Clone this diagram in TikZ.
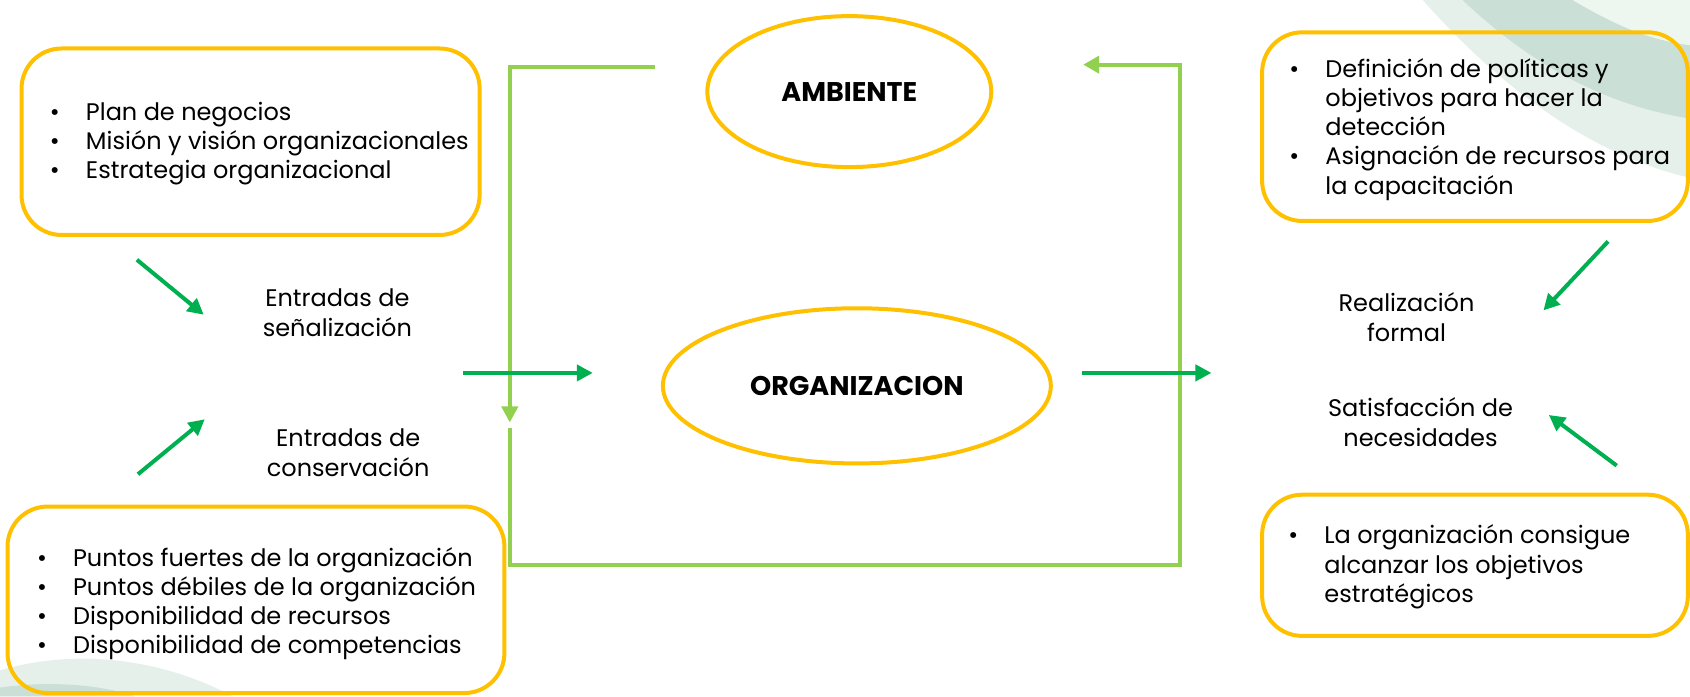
\documentclass[tikz,border=0pt]{standalone}
\usepackage{fontspec}
\setmainfont{Poppins}
\usetikzlibrary{arrows.meta,positioning,shapes.geometric,fit}

\definecolor{boxyellow}{HTML}{FFC000}
\definecolor{flowgreen}{HTML}{00B050}
\definecolor{loopgreen}{HTML}{92D050}
\definecolor{swirlpale}{HTML}{E6F0EB}
\definecolor{swirlteal}{HTML}{CADFD6}
\definecolor{swirllight}{HTML}{EEF6F0}

\tikzset{
  box/.style={draw=boxyellow, line width=2pt, rounded corners=20pt, inner sep=0pt},
  oval/.style={ellipse, draw=boxyellow, line width=2pt, font=\fontsize{13.5}{16}\selectfont\bfseries},
  lbl/.style={align=center, font=\fontsize{12}{15}\selectfont},
  list/.style={anchor=west, align=left, inner sep=0pt, font=\fontsize{12}{14.6}\selectfont},
  flow/.style={flowgreen, line width=2pt, -{Triangle[length=8pt,width=8pt]}},
  feedback/.style={loopgreen, line width=2pt},
}
\newcommand{\bul}{\makebox[18pt][l]{\textbullet}}
\newcommand{\ind}{\hspace*{18pt}}

\begin{document}
\begin{tikzpicture}[x=0.539pt, y=-0.539pt]
\useasboundingbox (0,0) rectangle (1568,646);

% Background swirls
\fill[swirlpale] (1320,0) .. controls (1395,85) and (1480,145) .. (1568,165) -- (1568,0) -- cycle;
\fill[swirlteal] (1357,0) .. controls (1420,60) and (1490,98) .. (1568,110) -- (1568,0) -- cycle;
\fill[swirllight] (1459,0) .. controls (1500,24) and (1530,37) .. (1568,42) -- (1568,0) -- cycle;
\fill[swirlpale] (0,622) .. controls (60,604) and (140,606) .. (216,646) -- (0,646) -- cycle;
\fill[swirlteal] (0,638) .. controls (40,632) and (90,634) .. (125,646) -- (0,646) -- cycle;

% Yellow boxes
\node[box, fit={(20,45) (445,218)}] (plan) {};
\node[box, fit={(7,470) (468,643)}] (internal) {};
\node[box, fit={(1171,30) (1566,205)}] (policy) {};
\node[box, fit={(1171,459) (1566,590)}] (goals) {};

\node[list] (plantext) at (46,133) {\bul Plan de negocios\\ \bul Misión y visión organizacionales\\ \bul Estrategia organizacional};
\node[list] (internaltext) at (34,560) {\bul Puntos fuertes de la organización\\ \bul Puntos débiles de la organización\\ \bul Disponibilidad de recursos\\ \bul Disponibilidad de competencias};
\node[list] (policytext) at (1196,120) {\bul Definición de políticas y\\ \ind objetivos para hacer la\\ \ind detección\\ \bul Asignación de recursos para\\ \ind la capacitación};
\node[list] (goalstext) at (1195,526) {\bul La organización consigue\\ \ind alcanzar los objetivos\\ \ind estratégicos};

% Ellipses
\node[oval, minimum width=142pt, minimum height=75.5pt] (env) at (788,85) {AMBIENTE};
\node[oval, minimum width=194pt, minimum height=77.6pt] (org) at (795,358) {ORGANIZACION};

% Labels
\node[lbl] (signal) at (313,290) {Entradas de\\señalización};
\node[lbl] (keep) at (323,420) {Entradas de\\conservación};
\node[lbl] (formal) at (1305,294) {Realización\\formal};
\node[lbl] (needs) at (1318,392) {Satisfacción de\\necesidades};

% Feedback loop
\coordinate (fbA) at (608,62);
\coordinate (fbB) at (473,62);
\coordinate (fbC) at (473,392);
\coordinate (fbD) at (473,397);
\coordinate (fbE) at (473,524);
\coordinate (fbF) at (1095,524);
\coordinate (fbG) at (1095,60);
\coordinate (fbH) at (1005,60);
\draw[feedback, -{Triangle[length=8pt,width=8pt]}] (fbA) -- (fbB) -- (fbC);
\draw[feedback, -{Triangle[length=8pt,width=8.5pt]}] (fbD) -- (fbE) -- (fbF) -- (fbG) -- (fbH);

% Green arrows
\coordinate (a1) at (127,241); \coordinate (a2) at (189,292);
\coordinate (b1) at (128,440); \coordinate (b2) at (190,389);
\coordinate (c1) at (430,346); \coordinate (c2) at (550,346);
\coordinate (d1) at (1004,346); \coordinate (d2) at (1124,346);
\coordinate (e1) at (1492,224); \coordinate (e2) at (1432,288);
\coordinate (f1) at (1500,432); \coordinate (f2) at (1437,385);
\draw[flow] (a1) -- (a2);
\draw[flow] (b1) -- (b2);
\draw[flow] (c1) -- (c2);
\draw[flow] (d1) -- (d2);
\draw[flow] (e1) -- (e2);
\draw[flow] (f1) -- (f2);

\end{tikzpicture}
\end{document}
